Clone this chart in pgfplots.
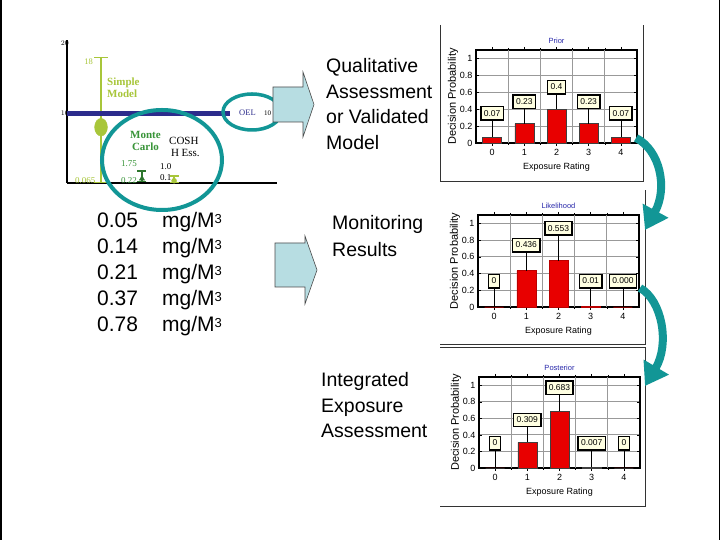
\documentclass[border=0pt]{standalone}
\usepackage{pgfplots}
\pgfplotsset{compat=1.18}
\usepackage{fontspec}
\setmainfont{Liberation Sans}
\newfontfamily\serif{Liberation Serif}
\usetikzlibrary{arrows.meta}

\definecolor{tealc}{RGB}{18,150,150}
\definecolor{arrowfill}{RGB}{183,221,226}
\definecolor{ygreen}{RGB}{168,198,58}
\definecolor{mcgreen}{RGB}{56,148,56}
\definecolor{oelblue}{RGB}{44,44,140}
\definecolor{barred}{RGB}{232,0,0}
\definecolor{lblfill}{RGB}{255,255,226}
\definecolor{titleblue}{RGB}{40,40,170}
\newcommand{\fs}[1]{\fontsize{#1}{#1}\selectfont}
\newcommand{\cube}{\raisebox{0.45ex}{\fs{13}3}}

\pgfplotsset{
  bayes/.style={
    scale only axis, width=161pt,
    ybar, bar width=19pt,
    xmin=-0.5, xmax=4.5, ymin=0, ymax=1.1,
    xtick={0,...,4}, ytick={0,0.2,...,1},
    extra x ticks={0.5,1.5,2.5,3.5}, extra x tick labels={},
    extra x tick style={grid=major, major tick length=0pt},
    ymajorgrids, grid style={black!40, line width=0.9pt},
    minor x tick num=1,
    axis line style={line width=1.3pt},
    tick style={black, line width=0.5pt},
    major tick length=3pt, minor tick length=2pt,
    tick label style={font=\fs{9}},
    /pgf/number format/assume math mode=true,
    xlabel={Exposure Rating}, ylabel={Decision Probability},
    xlabel style={font=\fs{9}, yshift=3pt},
    ylabel style={font=\fs{11}, yshift=-5pt},
    title style={font=\fs{7.5}, text=titleblue, yshift=-3pt},
    clip=false,
  },
  bars/.style={fill=barred, draw=black!75, line width=0.6pt},
}
\tikzset{lbl/.style={draw=black, line width=1.4pt, fill=lblfill, font=\fs{8.5},
    inner xsep=3pt, inner ysep=3pt, text height=6.5pt, text depth=1pt}}
% leader line and value box
\newcommand{\lab}[4]{%
  \draw[black, line width=0.8pt] (axis cs:#1,#2) -- (axis cs:#1,#3);
  \node[lbl] at (axis cs:#1,#3) {#4};}

\pgfplotstableread{
x prior like post
0 0.07 0     0
1 0.23 0.436 0.309
2 0.40 0.553 0.683
3 0.23 0.01  0.007
4 0.07 0.000 0
}\bayesdata

\begin{document}
\begin{tikzpicture}
\useasboundingbox (0,0) rectangle (720pt,540pt);
\fill[white] (0,0) rectangle (720pt,540pt);

\begin{scope}[x=1pt,y=1pt]
% slide border
\draw[black, line width=1.5pt] (0.8,0) -- (0.8,540);
\draw[black, line width=1pt] (719.2,0) -- (719.2,540);

% chart panel frames
\draw[black!80, line width=1pt] (440,515) -- (440,358) -- (643,358) -- (643,515);
\draw[black!80, line width=1pt] (440,195) -- (645,195) -- (645,350);
\draw[black!80, line width=1pt] (440,192) -- (645,192) -- (645,33) -- (440,33);
\end{scope}

% ---------- left exposure chart ----------
\begin{axis}[at={(67pt,357pt)}, anchor=south west, scale only axis,
  width=210pt, height=143pt,
  xmin=0, xmax=10, ymin=0, ymax=20.5,
  axis lines=left, axis line style={line width=2.5pt, -},
  xtick=\empty, ytick={10,20}, major tick length=0pt,
  yticklabel style={font=\serif\fs{7}, inner sep=0pt, xshift=2pt},
  clip=false]
% simple model
\addplot[ygreen, mark=none, error bars/.cd, y dir=both, y explicit,
  error bar style={line width=1.6pt},
  error mark options={rotate=90, mark size=7pt, line width=1.6pt}]
  coordinates {(1.62,8) += (0,10) -= (0,7.935)};
\addplot[ygreen, only marks, mark=*, mark size=8pt,
  mark options={xscale=0.8, yscale=1.1}] coordinates {(1.62,8)};
% OEL
\addplot[oelblue, line width=5pt] coordinates {(0,10) (7.76,10)};
% Monte Carlo
\addplot[mcgreen!80!black, mark=triangle*, mark size=3pt,
  error bars/.cd, y dir=both, y explicit,
  error bar style={line width=1.5pt},
  error mark options={rotate=90, mark size=4.5pt, line width=1.5pt}]
  coordinates {(3.57,0.62) += (0,1.13) -= (0,0.40)};
% COSH Essentials
\addplot[ygreen, mark=*, mark size=2.5pt,
  error bars/.cd, y dir=both, y explicit,
  error bar style={line width=1.5pt},
  error mark options={rotate=90, mark size=4.5pt, line width=1.5pt}]
  coordinates {(5.1,0.32) += (0,0.68) -= (0,0.22)};
\end{axis}

\begin{scope}[x=1pt,y=1pt]
\node[anchor=east, text=ygreen, font=\serif\fs{8.5}, inner sep=0pt] at (93,478) {18};
\node[anchor=west, text=ygreen, font=\serif\bfseries\fs{11}, inner sep=0pt, align=left] at (107,452) {Simple\\[1pt]Model};
\node[anchor=west, text=mcgreen, font=\serif\bfseries\fs{11}, inner sep=0pt, align=left] at (130,399) {Monte\\[1pt]\,Carlo};
\node[anchor=west, text=black, font=\serif\fs{11}, inner sep=0pt, align=left] at (169,393) {COSH\\[1pt]\,H Ess.};
\node[anchor=west, text=mcgreen, font=\serif\fs{9}, inner sep=0pt] at (121,376) {1.75};
\node[anchor=west, text=mcgreen, font=\serif\fs{9}, inner sep=0pt] at (121,359) {0.22};
\node[anchor=west, text=ygreen, font=\serif\fs{9}, inner sep=0pt] at (75,359) {0.065};
\node[anchor=west, text=black, font=\serif\fs{9}, inner sep=0pt] at (160,373) {1.0};
\node[anchor=west, text=black, font=\serif\fs{9}, inner sep=0pt] at (160,362) {0.1};
\node[anchor=west, text=oelblue, font=\serif\fs{8.5}, inner sep=0pt] at (239,427) {OEL};
\node[anchor=west, text=black, font=\serif\fs{7}, inner sep=0pt] at (264,427) {10};

% teal ellipses
\draw[tealc, line width=4pt] (162,380) ellipse [x radius=60, y radius=50];
\draw[tealc, line width=3.5pt] (252,428) ellipse [x radius=29, y radius=18];

% block arrows
\draw[black!70, line width=0.6pt, fill=arrowfill]
  (273,453) -- (303,453) -- (303,468) -- (314,435.5) -- (303,403) -- (303,418) -- (273,418) -- cycle;
\draw[black!70, line width=0.6pt, fill=arrowfill]
  (275,297) -- (305,297) -- (305,304) -- (317,270) -- (305,236) -- (305,253) -- (275,253) -- cycle;

% big texts
\begin{scope}[every node/.style={anchor=base west, inner sep=0pt, font=\fs{19.5}}]
\node at (326,467) {Qualitative};
\node at (326,441.5) {Assessment};
\node at (326,416) {or Validated};
\node at (326,390) {Model};
\node at (332,310) {Monitoring};
\node at (332,283) {Results};
\node at (321,153) {Integrated};
\node at (321,127) {Exposure};
\node at (321,102) {Assessment};
\end{scope}
\begin{scope}[every node/.style={anchor=base west, inner sep=0pt, font=\fs{21}}]
\node at (97,312) {0.05};  \node at (162,312) {mg/M\cube};
\node at (97,286) {0.14};  \node at (162,286) {mg/M\cube};
\node at (97,260) {0.21};  \node at (162,260) {mg/M\cube};
\node at (97,234) {0.37};  \node at (162,234) {mg/M\cube};
\node at (97,208) {0.78};  \node at (162,208) {mg/M\cube};
\end{scope}
\end{scope}

% ---------- Prior ----------
\begin{axis}[bayes, at={(476pt,397pt)}, anchor=south west, height=93pt, title={Prior}]
\addplot[bars] table[x=x, y=prior] {\bayesdata};
\lab{0}{0.07}{0.35}{0.07}
\lab{1}{0.23}{0.49}{0.23}
\lab{2}{0.40}{0.66}{0.4}
\lab{3}{0.23}{0.49}{0.23}
\lab{4}{0.07}{0.35}{0.07}
\end{axis}

% ---------- Likelihood ----------
\begin{axis}[bayes, at={(478pt,233pt)}, anchor=south west, height=92pt, title={Likelihood}]
\addplot[bars, draw=barred!80!black] table[x=x, y=like] {\bayesdata};
\lab{0}{0}{0.31}{0}
\lab{1}{0.436}{0.74}{0.436}
\lab{2}{0.553}{0.94}{0.553}
\lab{3}{0.01}{0.31}{0.01}
\lab{4}{0}{0.31}{0.000}
\end{axis}

% ---------- Posterior ----------
\begin{axis}[bayes, at={(479pt,72pt)}, anchor=south west, height=91pt, title={Posterior}]
\addplot[bars] table[x=x, y=post] {\bayesdata};
\lab{0}{0}{0.30}{0}
\lab{1}{0.309}{0.58}{0.309}
\lab{2}{0.683}{0.97}{0.683}
\lab{3}{0.007}{0.30}{0.007}
\lab{4}{0}{0.30}{0}
\end{axis}

% curved teal arrows
\begin{scope}[x=1pt,y=1pt]
\draw[tealc, line width=8pt, -{Triangle[width=28pt,length=22pt]}]
  (636,402) .. controls (660,390) and (668,352) .. (645,310);
\draw[tealc, line width=8pt, -{Triangle[width=28pt,length=22pt]}]
  (640,252) .. controls (662,240) and (670,196) .. (645,154);
\end{scope}
\end{tikzpicture}
\end{document}
